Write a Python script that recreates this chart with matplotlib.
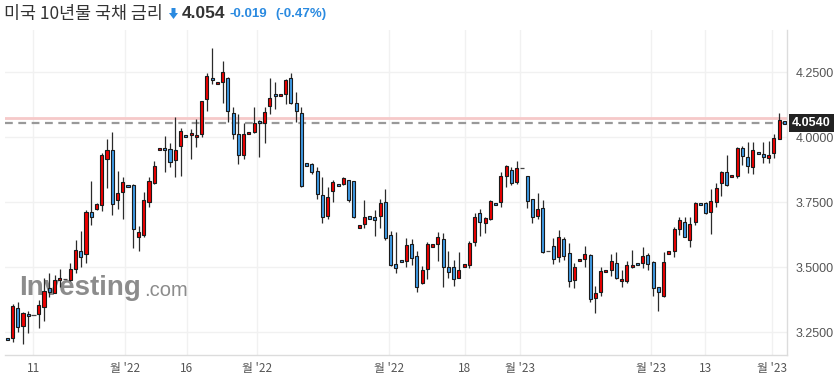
import matplotlib
matplotlib.use("Agg")

import numpy as np
import matplotlib.pyplot as plt
from matplotlib.patches import Polygon, Rectangle

plt.rcParams["font.family"] = ["Noto Sans CJK KR", "DejaVu Sans"]

# daily candles (open, high, low, close)
opens = [3.227, 3.227, 3.342, 3.274, 3.316, 3.315, 3.319, 3.349, 3.419, 3.403,
         3.450, 3.456, 3.450, 3.495, 3.564, 3.550, 3.714, 3.723, 3.739, 3.915,
         3.951, 3.758, 3.789, 3.814, 3.817, 3.618, 3.626, 3.753, 3.823, 3.954,
         3.956, 3.954, 3.912, 3.968, 4.005, 4.012, 4.003, 4.013, 4.146, 4.226,
         4.208, 4.212, 4.227, 4.092, 4.012, 3.933, 4.014, 4.019, 4.060, 4.054,
         4.122, 4.163, 4.160, 4.165, 4.227, 4.131, 4.092, 3.897, 3.896, 3.871,
         3.777, 3.696, 3.792, 3.818, 3.819, 3.835, 3.831, 3.656, 3.665, 3.693,
         3.692, 3.696, 3.750, 3.623, 3.514, 3.526, 3.523, 3.589, 3.544, 3.439,
         3.492, 3.583, 3.589, 3.608, 3.500, 3.500, 3.460, 3.506, 3.510, 3.599,
         3.708, 3.669, 3.685, 3.745, 3.750, 3.850, 3.873, 3.830, 3.882, 3.850,
         3.762, 3.699, 3.727, 3.562, 3.581, 3.539, 3.609, 3.554, 3.451, 3.526,
         3.531, 3.546, 3.381, 3.404, 3.485, 3.490, 3.515, 3.450, 3.446, 3.503,
         3.513, 3.515, 3.546, 3.521, 3.423, 3.391, 3.556, 3.564, 3.646, 3.673,
         3.604, 3.676, 3.744, 3.746, 3.714, 3.750, 3.823, 3.865, 3.849, 3.851,
         3.958, 3.923, 3.887, 3.940, 3.932, 3.925, 3.941, 3.995, 4.060]
highs = [3.230, 3.358, 3.365, 3.330, 3.333, 3.315, 3.374, 3.460, 3.477, 3.471,
         3.492, 3.456, 3.518, 3.604, 3.641, 3.721, 3.831, 3.746, 3.939, 3.994,
         4.019, 3.871, 3.846, 3.815, 3.821, 3.659, 3.791, 3.849, 3.910, 3.957,
         4.006, 3.980, 4.080, 4.035, 4.006, 4.031, 4.069, 4.141, 4.246, 4.342,
         4.211, 4.292, 4.231, 4.118, 4.090, 4.054, 4.018, 4.115, 4.067, 4.118,
         4.227, 4.212, 4.164, 4.223, 4.246, 4.176, 4.118, 3.898, 3.903, 3.885,
         3.846, 3.808, 3.836, 3.819, 3.849, 3.837, 3.832, 3.660, 3.758, 3.694,
         3.721, 3.762, 3.800, 3.641, 3.637, 3.527, 3.613, 3.608, 3.563, 3.506,
         3.596, 3.587, 3.635, 3.631, 3.563, 3.528, 3.558, 3.510, 3.603, 3.710,
         3.723, 3.694, 3.757, 3.746, 3.865, 3.892, 3.887, 3.908, 3.882, 3.853,
         3.764, 3.785, 3.757, 3.562, 3.612, 3.642, 3.615, 3.592, 3.515, 3.530,
         3.583, 3.550, 3.430, 3.503, 3.489, 3.550, 3.558, 3.490, 3.526, 3.567,
         3.514, 3.578, 3.554, 3.526, 3.426, 3.558, 3.560, 3.656, 3.692, 3.692,
         3.692, 3.753, 3.745, 3.750, 3.800, 3.823, 3.872, 3.931, 3.853, 3.964,
         3.967, 3.981, 3.981, 3.941, 3.981, 3.985, 4.012, 4.094, 4.062]
lows = [3.221, 3.212, 3.253, 3.204, 3.249, 3.315, 3.265, 3.295, 3.385, 3.400,
        3.426, 3.456, 3.449, 3.478, 3.503, 3.515, 3.662, 3.721, 3.718, 3.804,
        3.701, 3.723, 3.685, 3.811, 3.573, 3.564, 3.618, 3.733, 3.821, 3.953,
        3.868, 3.887, 3.846, 3.853, 4.002, 3.917, 3.964, 4.003, 4.103, 4.204,
        4.207, 4.131, 4.060, 3.992, 3.899, 3.915, 4.013, 4.015, 3.923, 3.977,
        4.090, 4.108, 4.159, 4.128, 4.128, 4.060, 3.810, 3.894, 3.858, 3.763,
        3.672, 3.685, 3.750, 3.814, 3.815, 3.750, 3.691, 3.655, 3.653, 3.690,
        3.622, 3.650, 3.605, 3.506, 3.477, 3.522, 3.503, 3.509, 3.404, 3.436,
        3.454, 3.582, 3.523, 3.423, 3.460, 3.430, 3.458, 3.505, 3.499, 3.582,
        3.622, 3.631, 3.682, 3.741, 3.731, 3.808, 3.818, 3.821, 3.882, 3.727,
        3.669, 3.685, 3.554, 3.562, 3.512, 3.522, 3.530, 3.426, 3.419, 3.525,
        3.500, 3.368, 3.323, 3.391, 3.484, 3.465, 3.455, 3.423, 3.439, 3.499,
        3.509, 3.496, 3.490, 3.390, 3.333, 3.387, 3.555, 3.539, 3.626, 3.626,
        3.577, 3.662, 3.740, 3.704, 3.627, 3.731, 3.774, 3.814, 3.848, 3.842,
        3.894, 3.864, 3.858, 3.936, 3.900, 3.903, 3.919, 3.992, 4.052]
closes = [3.223, 3.353, 3.269, 3.323, 3.315, 3.315, 3.355, 3.410, 3.406, 3.451,
          3.458, 3.456, 3.495, 3.568, 3.539, 3.712, 3.692, 3.742, 3.932, 3.951,
          3.742, 3.785, 3.830, 3.812, 3.646, 3.635, 3.758, 3.831, 3.889, 3.956,
          3.954, 3.904, 3.950, 4.023, 4.003, 4.014, 4.005, 4.139, 4.235, 4.223,
          4.210, 4.250, 4.103, 4.012, 3.931, 4.012, 4.017, 4.054, 4.058, 4.096,
          4.150, 4.160, 4.163, 4.219, 4.132, 4.103, 3.814, 3.895, 3.865, 3.781,
          3.692, 3.769, 3.830, 3.815, 3.844, 3.760, 3.692, 3.659, 3.692, 3.691,
          3.681, 3.749, 3.614, 3.509, 3.496, 3.523, 3.585, 3.535, 3.423, 3.490,
          3.590, 3.586, 3.618, 3.503, 3.481, 3.454, 3.490, 3.509, 3.594, 3.692,
          3.676, 3.690, 3.754, 3.742, 3.850, 3.890, 3.823, 3.881, 3.882, 3.754,
          3.692, 3.723, 3.560, 3.562, 3.531, 3.615, 3.545, 3.446, 3.500, 3.529,
          3.550, 3.377, 3.400, 3.486, 3.488, 3.524, 3.458, 3.453, 3.508, 3.506,
          3.510, 3.542, 3.512, 3.419, 3.404, 3.519, 3.559, 3.646, 3.681, 3.618,
          3.665, 3.746, 3.741, 3.708, 3.754, 3.804, 3.865, 3.818, 3.852, 3.959,
          3.930, 3.891, 3.950, 3.937, 3.929, 3.928, 3.996, 4.065, 4.054]

last_price = 4.054
prev_close = 4.073
change = -0.019
change_pct = -0.47

y_ticks = [3.25, 3.50, 3.75, 4.00, 4.25]
x_tick_pos = [4.95, 22.48, 34.15, 47.5, 72.65, 87.13, 97.6, 122.55, 132.95, 145.6]
x_tick_labels = ["11", "월 '22", "16", "월 '22", "월 '22", "18", "월 '23", "월 '23", "13", "월 '23"]

up_color = "#ee0000"
down_color = "#3f9be6"
blue_text = "#2a8ae0"

W, H = 839, 388
fig = plt.figure(figsize=(W / 100, H / 100), dpi=100)
ax = fig.add_axes([5 / W, (H - 355) / H, 782 / W, 325 / H])

def px(x, y):
    return x / W, 1 - y / H

n = len(opens)
x = np.arange(n)
o = np.array(opens); c = np.array(closes)
hi = np.array(highs); lo = np.array(lows)

# wicks
has_range = hi > lo
ax.vlines(x[has_range], lo[has_range], hi[has_range], color="#2b2b2b", linewidth=0.9, zorder=3)

# bodies
min_h = 0.009
for i in range(n):
    if hi[i] == lo[i]:
        ax.hlines(o[i], i - 0.4, i + 0.4, color="#444", linewidth=0.9, zorder=3)
        continue
    col = up_color if c[i] >= o[i] else down_color
    bot = min(o[i], c[i])
    h = abs(c[i] - o[i])
    if h < min_h:
        bot = (o[i] + c[i]) / 2 - min_h / 2
        h = min_h
    ax.add_patch(Rectangle((i - 0.3, bot), 0.6, h, facecolor=col,
                           edgecolor="#1a1a1a", linewidth=0.8, zorder=4))

# reference lines
ax.axhline(prev_close, color="#f6c9c9", linewidth=2, zorder=2)
ax.axhline(last_price, color="#999999", linewidth=1.6, linestyle=(0, (3.5, 2.5)), zorder=2)

ax.set_xlim(-0.44, 148.5)
ax.set_ylim(3.1627, 4.4127)

ax.set_yticks(y_ticks)
ax.set_yticklabels([f"{v:.4f}" for v in y_ticks], family=["Liberation Sans"], fontsize=9, color="#555")
ax.yaxis.tick_right()
ax.set_xticks(x_tick_pos)
ax.set_xticklabels(x_tick_labels, fontsize=8.5, color="#555")
ax.tick_params(length=0, axis="y", pad=6)
ax.tick_params(length=0, axis="x", pad=5)
ax.grid(True, color="#f1f1f1", linewidth=1, zorder=0)
ax.set_axisbelow(True)
for s in ["top", "left"]:
    ax.spines[s].set_visible(False)
for s in ["right", "bottom"]:
    ax.spines[s].set_color("#dcdcdc")
    ax.spines[s].set_linewidth(1)

# current price tag
ax.text(1.006, last_price, f"{last_price:.4f}", transform=ax.get_yaxis_transform(),
        ha="left", va="center", fontsize=9, fontweight="bold", color="white",
        family=["Liberation Sans"], zorder=6,
        bbox=dict(boxstyle="square,pad=0.25", facecolor="#222222", edgecolor="none"))

# watermark
ax.text(*px(19, 288), "Investing", transform=fig.transFigure, fontsize=20, fontweight="bold",
        family=["Liberation Sans"], color="#8c8c8c", va="center", ha="left", zorder=1)
ax.text(*px(144, 291), ".com", transform=fig.transFigure, fontsize=14.5,
        family=["Liberation Sans"], color="#8c8c8c", va="center", ha="left", zorder=1)

# header
fig.text(*px(4, 14), "미국 10년물 국채 금리", fontsize=12.5, color="#333", va="center", ha="left")
arrow = [(171.5, 8), (175.5, 8), (175.5, 13), (178, 13), (173.5, 19), (169, 13), (171.5, 13)]
fig.patches.append(Polygon([px(a, b) for a, b in arrow], closed=True, facecolor=blue_text,
                           edgecolor="none", transform=fig.transFigure))
fig.text(*px(182, 14), f"{last_price:.3f}", fontsize=12.5, fontweight="bold", color="#333",
         family=["Liberation Sans"], va="center", ha="left")
fig.text(*px(230, 14), f"{change:.3f}", fontsize=9.5, fontweight="bold", color=blue_text,
         family=["Liberation Sans"], va="center", ha="left")
fig.text(*px(275, 14), f"({change_pct:.2f}%)", fontsize=9.5, fontweight="bold", color=blue_text,
         family=["Liberation Sans"], va="center", ha="left")

plt.savefig("out.png", dpi=100)
plt.close()
